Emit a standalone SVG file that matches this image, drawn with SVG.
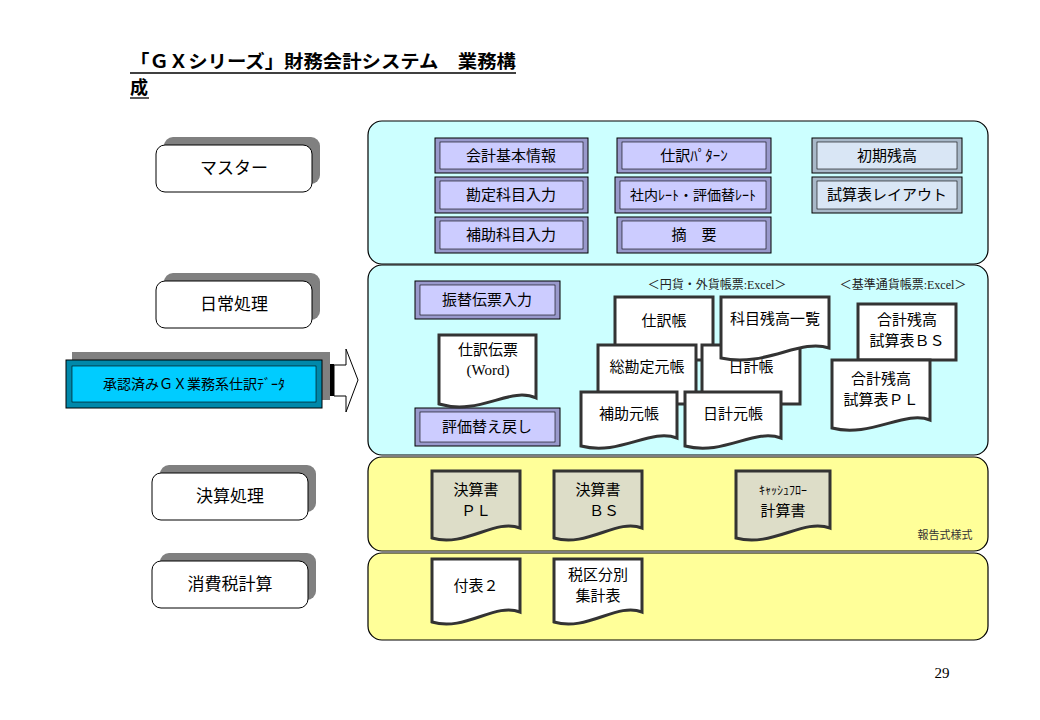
<svg xmlns="http://www.w3.org/2000/svg" width="1040" height="720" viewBox="0 0 1040 720">
<style>
text{font-family:"Noto Sans CJK JP","Liberation Sans",sans-serif;fill:#000}
.t{font-size:15px;text-anchor:middle}
.lab{font-size:17px;text-anchor:middle}
.pc{fill:#ccffff;stroke:#000;stroke-width:1.2}
.py{fill:#ffff99;stroke:#000;stroke-width:1.2}
.sh{fill:#808080}
.lb{fill:#fff;stroke:#000;stroke-width:1}
.bo{fill:#9999cc;stroke:#000;stroke-width:1}
.bi{fill:#ccccff;stroke:#000;stroke-width:0.6}
.bo2{fill:#a8b8c8;stroke:#000;stroke-width:1}
.bi2{fill:#d9e6f5;stroke:#000;stroke-width:0.6}
.doc{fill:#fff;stroke:#333;stroke-width:3}
.docg{fill:#ddddc8;stroke:#333;stroke-width:3}
.sm{font-size:12px;text-anchor:middle;fill:#222;font-family:"Liberation Serif","Noto Sans CJK JP",serif}
</style>
<text x="130" y="68" style="font-size:18px;font-weight:bold" textLength="386" lengthAdjust="spacingAndGlyphs">「ＧＸシリーズ」財務会計システム　業務構</text>
<line x1="130" y1="73" x2="516" y2="73" stroke="#000" stroke-width="1.3"/>
<text x="130" y="94" style="font-size:18px;font-weight:bold">成</text>
<line x1="130" y1="98" x2="149" y2="98" stroke="#000" stroke-width="1.3"/>

<g id="panels">
<rect class="pc" x="368" y="121" width="620" height="143" rx="14"/>
<rect class="pc" x="368" y="265" width="620" height="190" rx="14"/>
<rect class="py" x="368" y="457" width="620" height="94" rx="14"/>
<rect class="py" x="368" y="553" width="620" height="87" rx="14"/>
</g>

<g id="master-label"><rect class="sh" x="164" y="137" width="156" height="47" rx="9"/><rect class="lb" x="156" y="145" width="156" height="47" rx="9"/><text class="lab" x="234" y="174">マスター</text></g>
<g id="daily-label"><rect class="sh" x="164" y="273" width="156" height="47" rx="9"/><rect class="lb" x="156" y="281" width="156" height="47" rx="9"/><text class="lab" x="234" y="310">日常処理</text></g>
<g id="closing-label"><rect class="sh" x="160" y="465" width="156" height="47" rx="9"/><rect class="lb" x="152" y="473" width="156" height="47" rx="9"/><text class="lab" x="230" y="502">決算処理</text></g>
<g id="tax-label"><rect class="sh" x="160" y="553" width="156" height="47" rx="9"/><rect class="lb" x="152" y="561" width="156" height="47" rx="9"/><text class="lab" x="230" y="590">消費税計算</text></g>

<g id="gx-data">
<rect class="sh" x="72" y="352" width="258" height="48"/>
<rect x="66" y="360" width="256" height="48" fill="#0088aa" stroke="#000"/>
<rect x="72" y="366" width="244" height="36" fill="#00ccff" stroke="#000" stroke-width="0.6"/>
<text x="194" y="389" style="font-size:14px;text-anchor:middle">承認済みＧＸ業務系仕訳ﾃﾞｰﾀ</text>
</g>

<g id="connectors">
<rect x="330" y="364" width="4" height="32" fill="#000"/>
<path d="M334 365 H346 V349 L358 380 L346 412 V396 H334 Z" fill="#fff" stroke="#000" stroke-width="1"/>
</g>

<g id="master-boxes">
<g id="m1"><rect class="bo" x="435" y="138" width="153" height="35"/><rect class="bi" x="440" y="142" width="143" height="27"/><text class="t" x="511" y="161">会計基本情報</text></g>
<g id="m2"><rect class="bo" x="435" y="177" width="153" height="36"/><rect class="bi" x="440" y="181" width="143" height="28"/><text class="t" x="511" y="200">勘定科目入力</text></g>
<g id="m3"><rect class="bo" x="435" y="217" width="153" height="36"/><rect class="bi" x="440" y="221" width="143" height="28"/><text class="t" x="511" y="240">補助科目入力</text></g>
<g id="m4"><rect class="bo" x="617" y="138" width="154" height="35"/><rect class="bi" x="622" y="142" width="144" height="27"/><text class="t" x="694" y="161">仕訳ﾊﾟﾀｰﾝ</text></g>
<g id="m5"><rect class="bo" x="615" y="177" width="156" height="36"/><rect class="bi" x="620" y="181" width="146" height="28"/><text class="t" x="693" y="200" style="font-size:14px">社内ﾚｰﾄ・評価替ﾚｰﾄ</text></g>
<g id="m6"><rect class="bo" x="617" y="217" width="154" height="36"/><rect class="bi" x="622" y="221" width="144" height="28"/><text class="t" x="694" y="240">摘　要</text></g>
<g id="m7"><rect class="bo2" x="812" y="138" width="150" height="35"/><rect class="bi2" x="817" y="142" width="140" height="27"/><text class="t" x="887" y="161">初期残高</text></g>
<g id="m8"><rect class="bo2" x="812" y="177" width="150" height="36"/><rect class="bi2" x="817" y="181" width="140" height="28"/><text class="t" x="887" y="200">試算表レイアウト</text></g>
</g>

<g id="daily-boxes">
<g id="d1"><rect class="bo" x="415" y="281" width="145" height="38"/><rect class="bi" x="420" y="285" width="135" height="30"/><text class="t" x="487" y="305">振替伝票入力</text></g>
<g id="d2"><rect class="bo" x="415" y="408" width="145" height="38"/><rect class="bi" x="420" y="412" width="135" height="30"/><text class="t" x="487" y="432">評価替え戻し</text></g>
</g>

<text class="sm" x="717" y="289">＜円貨・外貨帳票:Excel＞</text>
<text class="sm" x="903" y="289">＜基準通貨帳票:Excel＞</text>

<g id="docs">
<g id="doc-denpyo"><path class="doc" d="M439 335 H536 V398 C510 386 480 416 439 404 Z"/><text class="t" x="488" y="355">仕訳伝票</text><text x="488" y="375" style="font-size:15px;text-anchor:middle;font-family:'Liberation Serif',serif">(Word)</text></g>
<g id="doc-shiwake"><path class="doc" d="M615 297 H713 V360 L615 360 Z"/><text class="t" x="664" y="326">仕訳帳</text></g>
<g id="doc-souk"><path class="doc" d="M598 345 H696 V404 L598 404 Z"/><text class="t" x="647" y="372">総勘定元帳</text></g>
<g id="doc-nikkei"><path class="doc" d="M702 345 H800 V404 L702 404 Z"/><text class="t" x="751" y="372">日計帳</text></g>
<g id="doc-kamoku"><path class="doc" d="M721 297 H829 V348 C800 338 765 368 721 358 Z"/><text class="t" x="775" y="324">科目残高一覧</text></g>
<g id="doc-hojo"><path class="doc" d="M581 392 H677 V438 C650 428 620 456 581 446 Z"/><text class="t" x="629" y="419">補助元帳</text></g>
<g id="doc-nikkeimoto"><path class="doc" d="M685 392 H781 V438 C754 428 724 456 685 446 Z"/><text class="t" x="733" y="419">日計元帳</text></g>
<g id="doc-bs"><path class="doc" d="M858 304 H956 V360 L858 360 Z"/><text class="t" x="907" y="325">合計残高</text><text class="t" x="907" y="346">試算表ＢＳ</text></g>
<g id="doc-pl"><path class="doc" d="M832 360 H930 V420 C905 410 870 438 832 428 Z"/><text class="t" x="881" y="384">合計残高</text><text class="t" x="881" y="405">試算表ＰＬ</text></g>
</g>

<g id="closing-docs">
<g id="c1"><path class="docg" d="M432 471 H520 V528 C495 518 465 548 432 538 Z"/><text class="t" x="476" y="495">決算書</text><text class="t" x="476" y="516">ＰＬ</text></g>
<g id="c2"><path class="docg" d="M554 471 H642 V528 C617 518 587 548 554 538 Z"/><text class="t" x="598" y="495">決算書</text><text class="t" x="604" y="516">ＢＳ</text></g>
<g id="c3"><path class="docg" d="M736 471 H830 V528 C803 518 772 548 736 538 Z"/><text class="t" x="783" y="495" style="font-size:12px">ｷｬｯｼｭﾌﾛｰ</text><text class="t" x="783" y="516">計算書</text></g>
<text x="945" y="539" style="font-size:11px;text-anchor:middle;fill:#333">報告式様式</text>
</g>

<g id="tax-docs">
<g id="x1"><path class="doc" d="M432 559 H520 V612 C495 602 465 632 432 622 Z"/><text class="t" x="476" y="591">付表２</text></g>
<g id="x2"><path class="doc" d="M554 559 H642 V612 C617 602 587 632 554 622 Z"/><text class="t" x="598" y="580">税区分別</text><text class="t" x="598" y="601">集計表</text></g>
</g>

<text x="942" y="678" style="font-size:15px;text-anchor:middle;font-family:'Liberation Serif',serif">29</text>
</svg>
